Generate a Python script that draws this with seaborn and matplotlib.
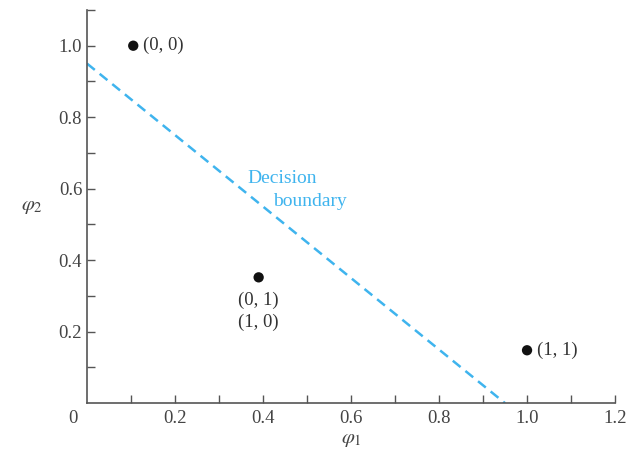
import numpy as np
import matplotlib
matplotlib.use("Agg")
import matplotlib.pyplot as plt
import seaborn as sns

# data
phi1 = [0.105, 0.39, 1.0]
phi2 = [1.0, 0.352, 0.148]
point_labels = ["(0, 0)", "(0, 1)\n(1, 0)", "(1, 1)"]
boundary_x = [0.0, 0.95]
boundary_y = [0.95, 0.0]
xtick_vals = [0.2, 0.4, 0.6, 0.8, 1.0, 1.2]
ytick_vals = [0.2, 0.4, 0.6, 0.8, 1.0]

sns.set_style("ticks")
plt.rcParams["font.family"] = ["Liberation Serif", "DejaVu Serif"]
plt.rcParams["mathtext.fontset"] = "stix"

gray = "#555555"
blue = "#3fb4ee"
fs = 13.5

fig = plt.figure(figsize=(6.4, 4.53), dpi=100)
ax = fig.add_axes([0.136, 0.110, 0.825, 0.868])

sns.lineplot(x=boundary_x, y=boundary_y, ax=ax, color=blue, linestyle=(0, (4, 2.5)), linewidth=1.8)
sns.scatterplot(x=phi1, y=phi2, ax=ax, color="#111111", s=55, edgecolor="none", zorder=3)

ax.set_xlim(0, 1.2)
ax.set_ylim(0, 1.1)
ax.set_xticks(xtick_vals)
ax.set_xticklabels([f"{v:.1f}" for v in xtick_vals])
ax.set_yticks(ytick_vals)
ax.set_yticklabels([f"{v:.1f}" for v in ytick_vals])
ax.set_xticks(np.arange(0.1, 1.21, 0.2), minor=True)
ax.set_yticks(np.arange(0.1, 1.11, 0.2), minor=True)
ax.tick_params(which="both", direction="in", length=6, width=1, color=gray,
               labelcolor="#444444", labelsize=fs)
ax.tick_params(axis="x", which="major", pad=5)
for side in ["top", "right"]:
    ax.spines[side].set_visible(False)
for side in ["left", "bottom"]:
    ax.spines[side].set_color(gray)
    ax.spines[side].set_linewidth(1.2)

ax.annotate("0", xy=(0, 0), xytext=(-10, -5), textcoords="offset points",
            ha="center", va="top", fontsize=fs, color="#444444")

ax.set_xlabel(r"$\varphi_1$", fontsize=15, color="#444444", labelpad=2)
ax.set_ylabel(r"$\varphi_2$", fontsize=15, color="#444444", rotation=0, ha="center", va="center")
ax.yaxis.set_label_coords(-0.105, 0.50)

# point labels
ax.annotate(point_labels[0], xy=(phi1[0], phi2[0]), xytext=(7, 0), textcoords="offset points",
            ha="left", va="center", fontsize=fs, color="#333333")
ax.annotate(point_labels[1], xy=(phi1[1], phi2[1]), xytext=(0, -10), textcoords="offset points",
            ha="center", va="top", fontsize=fs, color="#333333", linespacing=1.4)
ax.annotate(point_labels[2], xy=(phi1[2], phi2[2]), xytext=(7, 0), textcoords="offset points",
            ha="left", va="center", fontsize=fs, color="#333333")

ax.text(0.364, 0.628, "Decision", ha="left", va="center", fontsize=14, color=blue)
ax.text(0.423, 0.564, "boundary", ha="left", va="center", fontsize=14, color=blue)

fig.savefig("out.png", dpi=100)
